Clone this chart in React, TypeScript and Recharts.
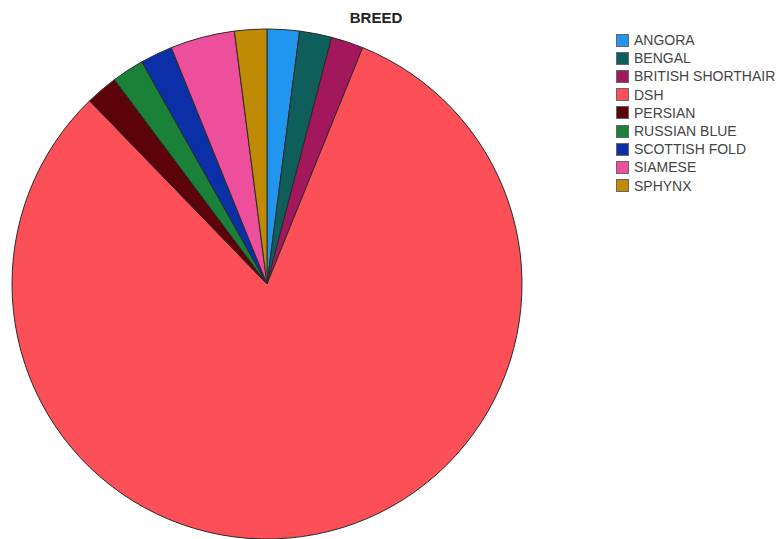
import React from "react";
import { PieChart, Pie, Cell } from "recharts";

const breeds = ["ANGORA", "BENGAL", "BRITISH SHORTHAIR", "DSH", "PERSIAN", "RUSSIAN BLUE", "SCOTTISH FOLD", "SIAMESE", "SPHYNX"];
const counts = [1, 1, 1, 40, 1, 1, 1, 2, 1];
const colors = ["#2196ee", "#0e5f5c", "#a3185c", "#fc4f58", "#5c0309", "#1a8138", "#0b2fa6", "#ee4f9c", "#c08b04"];

const data = breeds.map((name, i) => ({ name, value: counts[i] }));

export default function App() {
  return (
    <div style={{ position: "absolute", left: 0, top: 0, width: 777, height: 539, background: "#fff" }}>
      <PieChart width={777} height={539} margin={{ top: 0, right: 0, bottom: 0, left: 0 }}>
        <text x={376} y={23} textAnchor="middle" fontFamily="Arial, 'Liberation Sans', sans-serif" fontWeight="bold" fontSize={15} fill="#222">
          BREED
        </text>
        <Pie
          data={data}
          dataKey="value"
          nameKey="name"
          cx={267}
          cy={284}
          outerRadius={255}
          innerRadius={0}
          startAngle={90}
          endAngle={-270}
          stroke="#2a2a2a"
          strokeWidth={1}
          isAnimationActive={false}
        >
          {data.map((d, i) => (
            <Cell key={d.name} fill={colors[i]} />
          ))}
        </Pie>
      </PieChart>
      <div
        style={{
          position: "absolute",
          left: 616,
          top: 31,
          width: 161,
          fontFamily: "Arial, 'Liberation Sans', sans-serif",
          fontSize: 14,
          color: "#444",
          whiteSpace: "nowrap",
        }}
      >
        {data.map((d, i) => (
          <div key={d.name} style={{ display: "flex", alignItems: "center", height: 18.2 }}>
            <span
              style={{
                display: "inline-block",
                width: 13,
                height: 13,
                background: colors[i],
                border: "1px solid #666",
                marginRight: 5,
                boxSizing: "border-box",
                flexShrink: 0,
              }}
            />
            <span>{d.name}</span>
          </div>
        ))}
      </div>
    </div>
  );
}
